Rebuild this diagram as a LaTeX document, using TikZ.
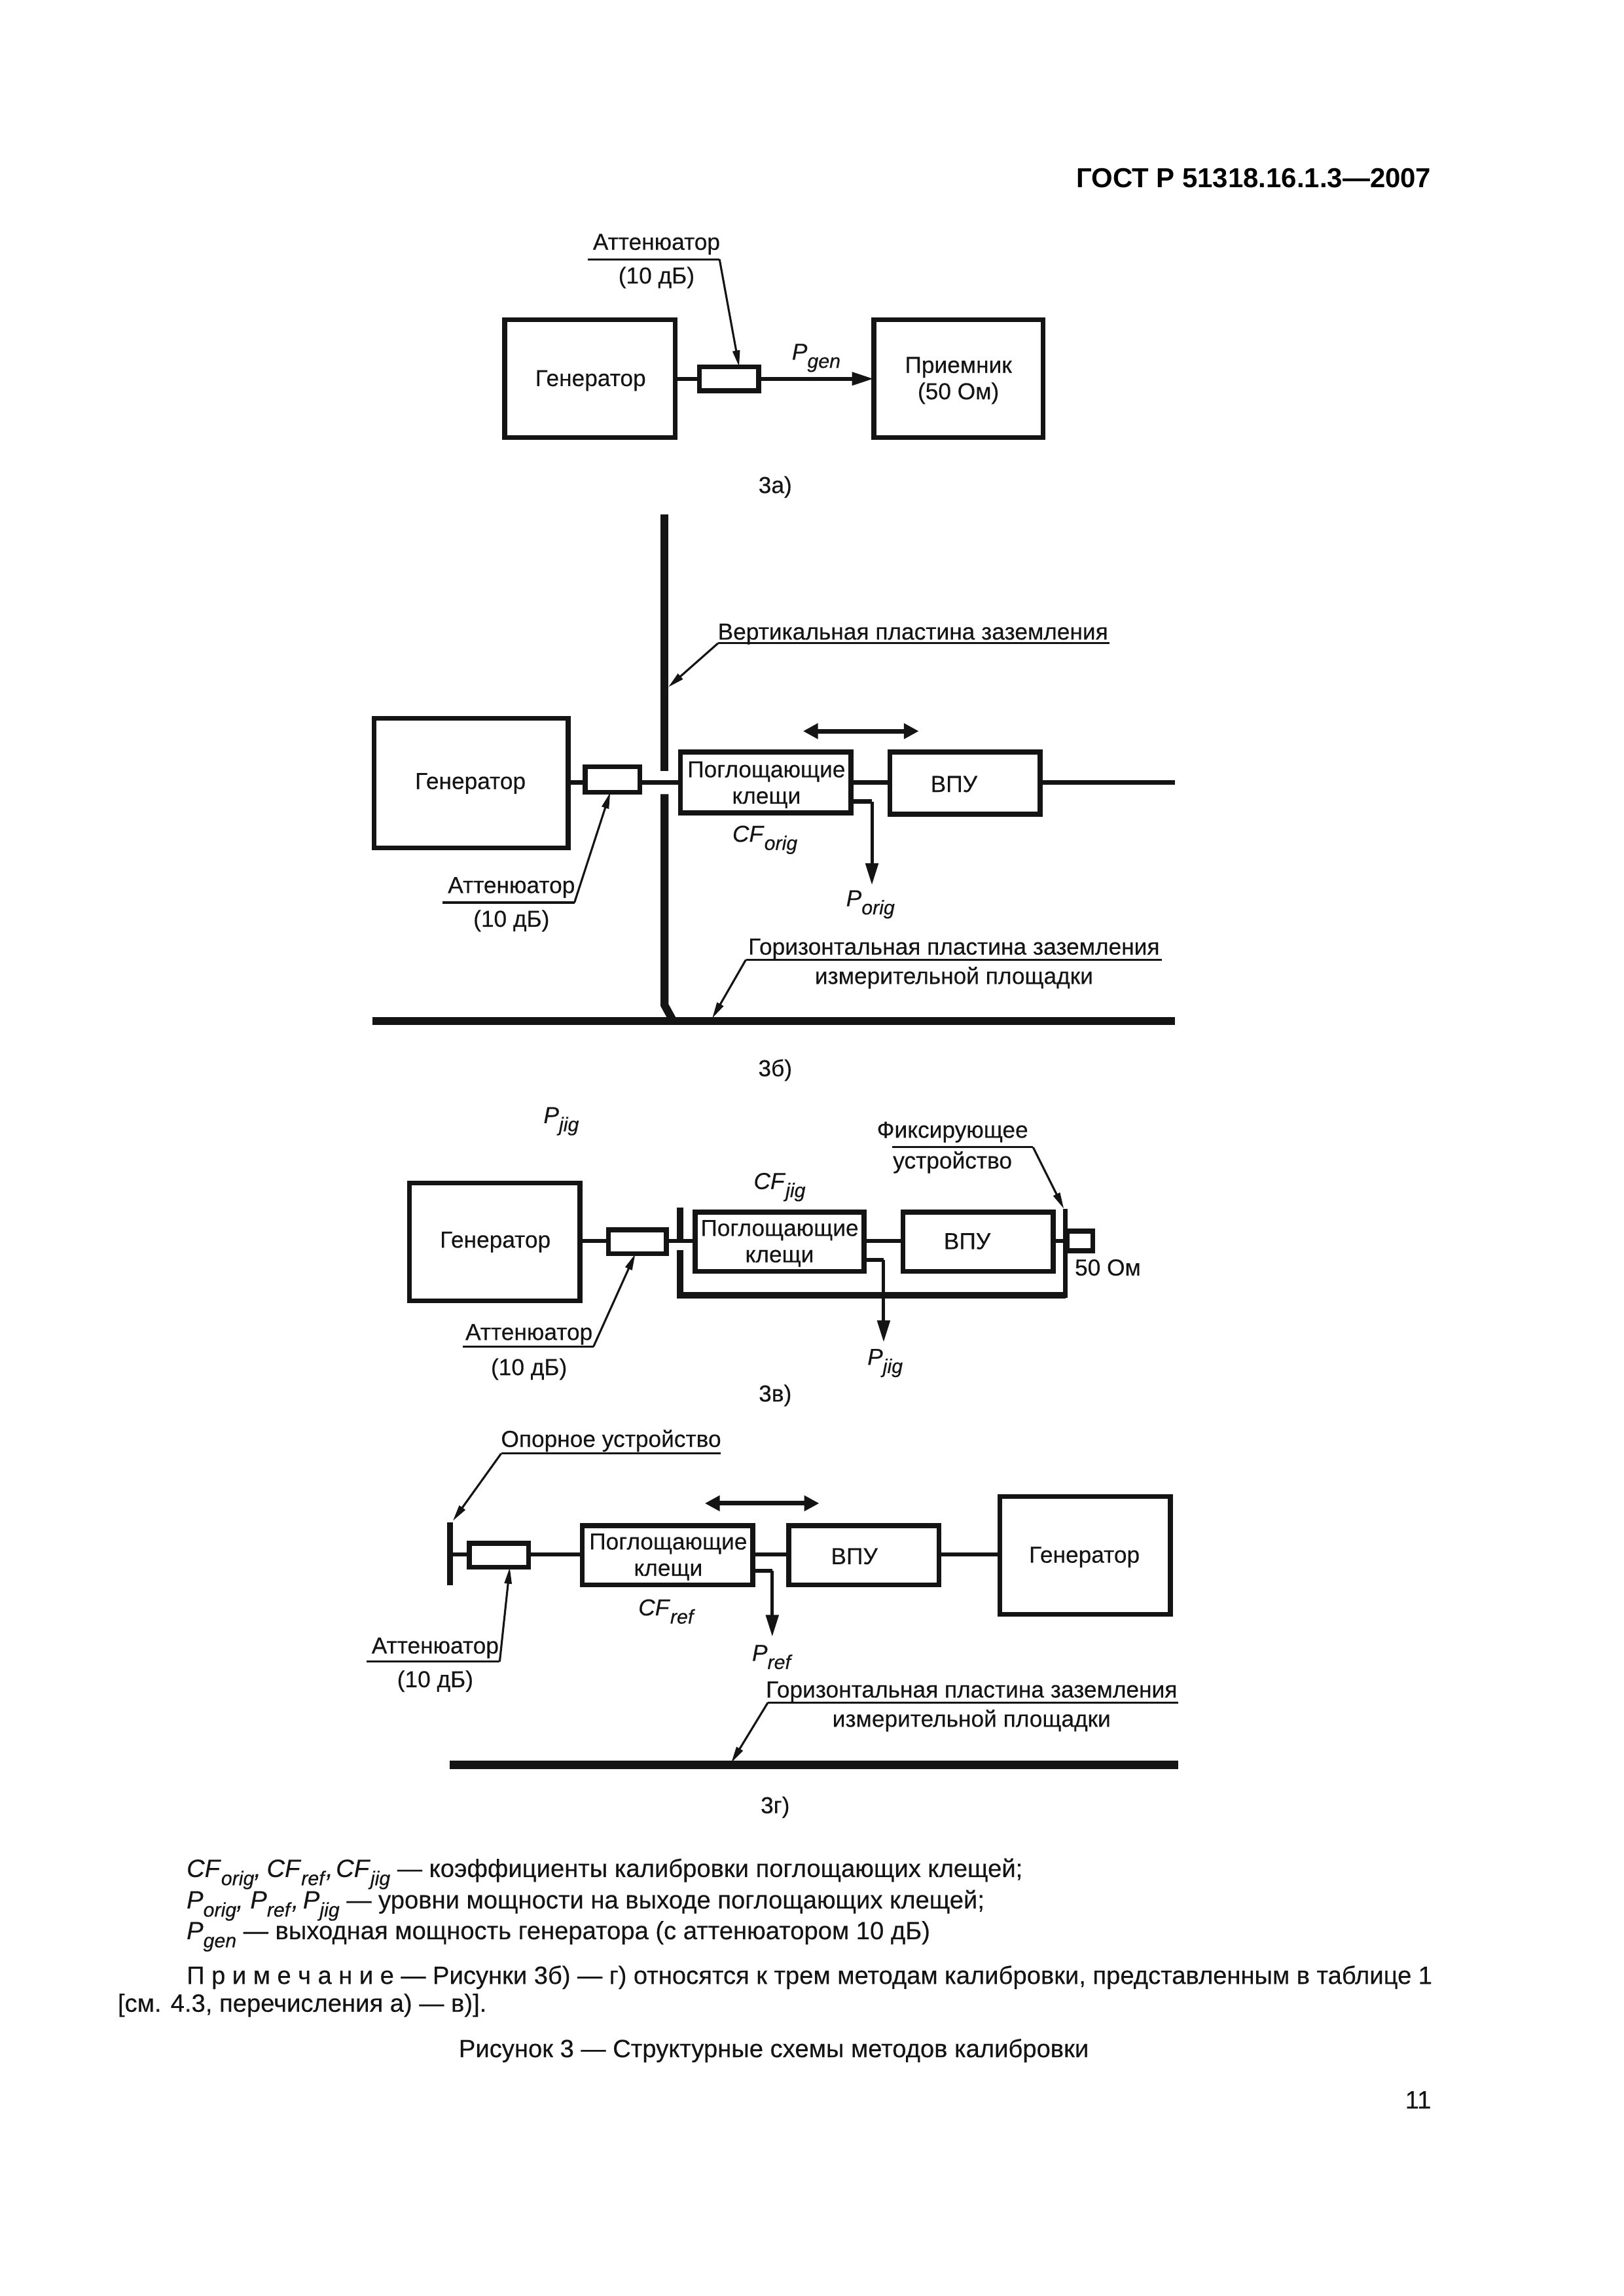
\documentclass[tikz,border=0pt]{standalone}
\usepackage{fontspec}
\setmainfont{Liberation Sans}[FakeBold=0.3,ItalicFeatures={FakeBold=0.3},BoldFeatures={FakeBold=0}]
\usetikzlibrary{arrows.meta}
\newcommand{\uu}{0.5372bp}
\newcommand{\sbs}[2]{\textit{#1}\raisebox{-3bp}{\fontsize{7.3}{8}\selectfont\textit{#2}}}
\newcommand{\blk}[5]{\node[block,minimum width={(#4-#2-2.6)*\uu},minimum height={(#5-#3-2.6)*\uu}] (#1) at ({(#2+#4)/2},{(#3+#5)/2}) {};}
\newcommand{\lbl}[4]{\node[lab] (#1) at (#2,#3+5.5) {#4};}
\newcommand{\btxt}[4]{\node[body] (#1) at (#2,#3) {#4};}
\begin{document}
\begin{tikzpicture}[x=\uu,y=-\uu,
 block/.style={draw=black!92,line width=1.8bp,inner sep=0pt,outer sep=0pt,rectangle},
 lab/.style={anchor=base,inner sep=0pt,font=\fontsize{8.5}{10}\selectfont,text=black!92},
 body/.style={anchor=base west,inner sep=0pt,font=\fontsize{9.2}{11}\selectfont,text=black!92},
 wire/.style={draw=black!92,line width=1.5bp},
 pointer/.style={draw=black!92,line width=0.75bp},
 lead/.style={pointer,-{Triangle[length=6bp,width=2.6bp]}},
 outarrow/.style={draw=black!92,line width=1.2bp,-{Triangle[length=8bp,width=4.6bp]}},
 moved/.style={draw=black!92,line width=1.7bp,{Triangle[length=5.5bp,width=5.5bp]}-{Triangle[length=5.5bp,width=5.5bp]}},
 plate/.style={draw=black!92,line width=2.9bp}]
\useasboundingbox (0,0) rectangle (1108,1567);
% header
\node[anchor=base east,inner sep=0pt,font=\fontsize{10.1}{12}\selectfont\bfseries] (hdr) at (977,128) {ГОСТ Р 51318.16.1.3—2007};

% ---------- 3a
\blk{ag}{343}{217}{462}{300}
\blk{aa}{476}{249}{519}{268}
\blk{ar}{595}{217}{713}{300}
\coordinate (aw) at (0,258.5);
\draw[wire] (ag.east|-aw) -- (aa.west|-aw);
\draw[outarrow,line width=1.5bp] (aa.east|-aw) -- (ar.west|-aw);
\lbl{agt}{403}{258}{Генератор}
\lbl{art}{654}{249}{Приемник}
\lbl{art2}{654}{267}{(50 Ом)}
\lbl{alt}{448}{165}{Аттенюатор}
\lbl{alt2}{448}{188}{(10 дБ)}
\coordinate (al1) at (401,177); \coordinate (al2) at (491,177);
\draw[pointer] (al1) -- (al2);
\draw[lead] (al2) -- (aa.50);
\lbl{apg}{557}{240}{\sbs{P}{gen}}
\lbl{acap}{529}{331}{3а)}

% ---------- 3b
\blk{bg}{254}{489}{389}{580}
\blk{ba}{398}{522}{438}{542}
\blk{bk}{463}{512}{582}{556}
\blk{bv}{606}{512}{711}{557}
\coordinate (bw) at (0,534);
\coordinate (bend) at (802,534);
\draw[wire] (bg.east|-bw) -- (ba.west|-bw);
\draw[wire] (ba.east|-bw) -- (bk.west|-bw);
\draw[wire] (bk.east|-bw) -- (bv.west|-bw);
\draw[wire] (bv.east|-bw) -- (bend);
\coordinate (bp1) at (453.5,351); \coordinate (bp2) at (453.5,526);
\coordinate (bp3) at (453.5,542); \coordinate (bp4) at (453.5,686); \coordinate (bp5) at (459,696);
\draw[plate] (bp1) -- (bp2);
\draw[plate] (bp3) -- (bp4) -- (bp5);
\coordinate (bh1) at (254,697); \coordinate (bh2) at (802,697);
\draw[plate] (bh1) -- (bh2);
\lbl{bgt}{321}{533}{Генератор}
\lbl{bkt}{523}{525}{Поглощающие}
\lbl{bkt2}{523}{543}{клещи}
\lbl{bvt}{651}{535}{ВПУ}
\lbl{bcf}{522}{569}{\sbs{CF}{orig}}
\coordinate (bo1) at (582,547); \coordinate (bo2) at (595,547); \coordinate (bo3) at (595,604);
\draw[wire] (bo1) -- (bo2);
\draw[outarrow] (bo2) -- (bo3);
\lbl{bpo}{594}{613}{\sbs{P}{orig}}
\coordinate (bm1) at (548,499); \coordinate (bm2) at (627,499);
\draw[moved] (bm1) -- (bm2);
\lbl{bvp}{623}{431}{Вертикальная пластина заземления}
\coordinate (bv1) at (757,439); \coordinate (bv2) at (490,439); \coordinate (bv3) at (456,469);
\draw[pointer] (bv1) -- (bv2);
\draw[lead] (bv2) -- (bv3);
\lbl{balt}{349}{604}{Аттенюатор}
\lbl{balt2}{349}{627}{(10 дБ)}
\coordinate (bal1) at (302,616); \coordinate (bal2) at (392,616);
\draw[pointer] (bal1) -- (bal2);
\draw[lead] (bal2) -- (ba.-100);
\lbl{bhp}{651}{646}{Горизонтальная пластина заземления}
\lbl{bhp2}{651}{666}{измерительной площадки}
\coordinate (bhl1) at (793,655); \coordinate (bhl2) at (509,655); \coordinate (bhl3) at (486,695);
\draw[pointer] (bhl1) -- (bhl2);
\draw[lead] (bhl2) -- (bhl3);
\lbl{bcap}{529}{729}{3б)}

% ---------- 3v
\lbl{vpt}{383}{761}{\sbs{P}{jig}}
\blk{vg}{278}{806}{397}{889}
\blk{va}{414}{838}{456}{857}
\blk{vk}{473}{826}{591}{869}
\blk{vv}{615}{826}{720}{869}
\blk{vr}{727}{839}{747}{855}
\coordinate (vw) at (0,847);
\draw[wire] (vg.east|-vw) -- (va.west|-vw);
\draw[wire] (va.east|-vw) -- (vk.west|-vw);
\draw[wire] (vk.east|-vw) -- (vv.west|-vw);
\draw[wire] (vv.east|-vw) -- (vr.west|-vw);
\coordinate (vp1) at (464,824); \coordinate (vp2) at (464,846);
\coordinate (vp3) at (464,853); \coordinate (vp4) at (464,884); \coordinate (vp5) at (727,884); \coordinate (vp6) at (727,825); \coordinate (vp7) at (727,886);
\draw[plate,line width=2.5bp] (vp1) -- (vp2);
\draw[plate,line width=2.5bp] (vp3) -- (vp4) -- (vp5);
\draw[plate,line width=1.7bp] (vp7) -- (vp6);
\lbl{vgt}{338}{846}{Генератор}
\lbl{vkt}{532}{838}{Поглощающие}
\lbl{vkt2}{532}{856}{клещи}
\lbl{vvt}{660}{847}{ВПУ}
\lbl{vro}{756}{865}{50 Ом}
\lbl{vcf}{532}{806}{\sbs{CF}{jig}}
\coordinate (vo1) at (591,860); \coordinate (vo2) at (603,860); \coordinate (vo3) at (603,916);
\draw[wire] (vo1) -- (vo2);
\draw[outarrow] (vo2) -- (vo3);
\lbl{vpj}{604}{926}{\sbs{P}{jig}}
\lbl{vfx}{650}{771}{Фиксирующее}
\lbl{vfx2}{650}{792}{устройство}
\coordinate (vf1) at (609,783); \coordinate (vf2) at (705,783); \coordinate (vf3) at (726,825);
\draw[pointer] (vf1) -- (vf2);
\draw[lead] (vf2) -- (vf3);
\lbl{valt}{361}{909}{Аттенюатор}
\lbl{valt2}{361}{933}{(10 дБ)}
\coordinate (val1) at (316,919); \coordinate (val2) at (405,919);
\draw[pointer] (val1) -- (val2);
\draw[lead] (val2) -- (va.-100);
\lbl{vcap}{529}{951}{3в)}

% ---------- 3g
\lbl{gop}{417}{982}{Опорное устройство}
\coordinate (gl1) at (492,992); \coordinate (gl2) at (342,992); \coordinate (gl3) at (309,1038);
\draw[pointer] (gl1) -- (gl2);
\draw[lead] (gl2) -- (gl3);
\coordinate (gp1) at (307,1039); \coordinate (gp2) at (307,1082);
\draw[plate,line width=2.2bp] (gp1) -- (gp2);
\blk{ga}{319}{1052}{362}{1071}
\blk{gk}{396}{1040}{515}{1083}
\blk{gv}{537}{1040}{642}{1083}
\blk{gg}{681}{1020}{800}{1103}
\coordinate (gw) at (0,1061);
\draw[wire] (gp1|-gw) -- (ga.west|-gw);
\draw[wire] (ga.east|-gw) -- (gk.west|-gw);
\draw[wire] (gk.east|-gw) -- (gv.west|-gw);
\draw[wire] (gv.east|-gw) -- (gg.west|-gw);
\lbl{gkt}{456}{1052}{Поглощающие}
\lbl{gkt2}{456}{1070}{клещи}
\lbl{gvt}{583}{1062}{ВПУ}
\lbl{ggt}{740}{1061}{Генератор}
\coordinate (gm1) at (481,1026); \coordinate (gm2) at (559,1026);
\draw[moved] (gm1) -- (gm2);
\coordinate (go1) at (515,1072); \coordinate (go2) at (527,1072); \coordinate (go3) at (527,1117);
\draw[wire] (go1) -- (go2);
\draw[outarrow] (go2) -- (go3);
\lbl{gcf}{455}{1097}{\sbs{CF}{ref}}
\lbl{gpr}{527}{1128}{\sbs{P}{ref}}
\lbl{galt}{297}{1123}{Аттенюатор}
\lbl{galt2}{297}{1146}{(10 дБ)}
\coordinate (gal1) at (250,1134); \coordinate (gal2) at (341,1134);
\draw[pointer] (gal1) -- (gal2);
\draw[lead] (gal2) -- (ga.-48);
\lbl{ghp}{663}{1153}{Горизонтальная пластина заземления}
\lbl{ghp2}{663}{1173}{измерительной площадки}
\coordinate (ghl1) at (804,1162); \coordinate (ghl2) at (524,1162); \coordinate (ghl3) at (499,1203);
\draw[pointer] (ghl1) -- (ghl2);
\draw[lead] (ghl2) -- (ghl3);
\coordinate (gh1) at (307,1204.5); \coordinate (gh2) at (804,1204.5);
\draw[plate] (gh1) -- (gh2);
\lbl{gcap}{529}{1232}{3г)}

% ---------- text
\btxt{t1}{127}{1281}{\sbs{CF}{orig}\textit{,}\kern-0.5bp{} \sbs{CF}{ref}\textit{,}\kern-1.5bp{} \sbs{CF}{jig} — коэффициенты калибровки поглощающих клещей;}
\btxt{t2}{127}{1302.5}{\sbs{P}{orig}\textit{,} \sbs{P}{ref}\textit{,}\kern-1bp{} \sbs{P}{jig} — уровни мощности на выходе поглощающих клещей;}
\btxt{t3}{127}{1323.5}{\sbs{P}{gen} — выходная мощность генератора (с аттенюатором 10 дБ)}
\btxt{t4}{127}{1354}{\hbox to 456.6bp{П р и м е ч а н и е — Рисунки 3б) — г) относятся к трем методам калибровки, представленным в таблице 1}}
\btxt{t5}{80}{1373}{[см. 4.3, перечисления а) — в)].}
\node[body,anchor=base] (t6) at (528,1404) {Рисунок 3 — Структурные схемы методов калибровки};
\node[body,anchor=base east] (t7) at (977,1439) {11};
\end{tikzpicture}
\end{document}
